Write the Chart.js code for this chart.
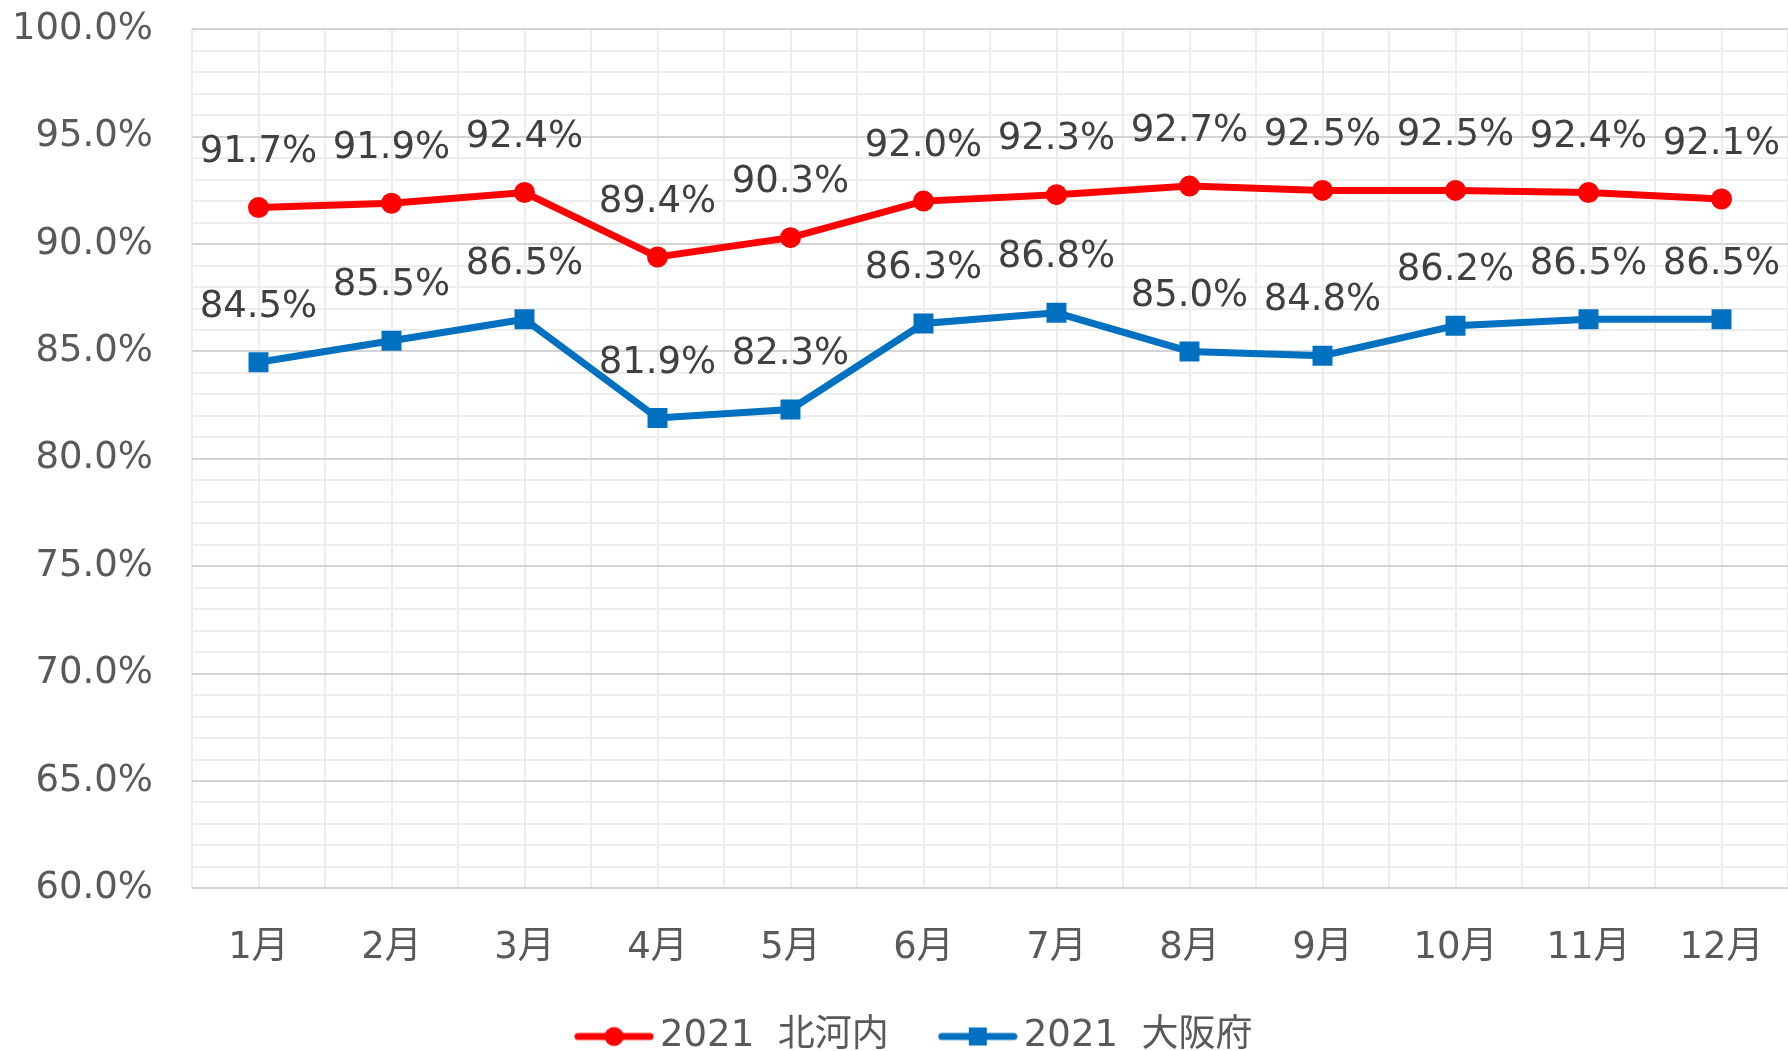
<!DOCTYPE html>
<html lang="ja">
<head>
<meta charset="utf-8">
<title>2021 北河内 / 大阪府</title>
<script src="https://cdn.jsdelivr.net/npm/chart.js@4/dist/chart.umd.min.js"></script>
<style>
  html, body { margin: 0; padding: 0; background: #fff; overflow: hidden; }
  #wrap { width: 1788px; height: 1065px; }
</style>
</head>
<body>
<div id="wrap"><canvas id="rateChart" width="1788" height="1065"></canvas></div>
<script>
// chart data
const months = ['1月', '2月', '3月', '4月', '5月', '6月', '7月', '8月', '9月', '10月', '11月', '12月'];
const kitakawachi = [91.7, 91.9, 92.4, 89.4, 90.3, 92.0, 92.3, 92.7, 92.5, 92.5, 92.4, 92.1];
const osakafu = [84.5, 85.5, 86.5, 81.9, 82.3, 86.3, 86.8, 85.0, 84.8, 86.2, 86.5, 86.5];
const seriesNames = ['2021  北河内', '2021  大阪府'];
const yMin = 60;
const yMax = 100;

const RED = '#FF0000';
const BLUE = '#0070C0';
// DejaVu for the latin part (close to Meiryo's digits), Noto CJK for kanji
const FONT = "'DejaVu Sans', 'Noto Sans CJK JP', sans-serif";

// legend icon: short line with the marker in the middle.
// the canvas is wider than the drawing so the line sits next to the text
function makeLegendIcon(color, shape) {
    const c = document.createElement('canvas');
    c.width = 131;
    c.height = 24;
    const g = c.getContext('2d');
    const x0 = 51;
    g.strokeStyle = color;
    g.lineWidth = 7;
    g.lineCap = 'round';
    g.beginPath();
    g.moveTo(x0 + 4, 12);
    g.lineTo(x0 + 76, 12);
    g.stroke();
    g.fillStyle = color;
    if (shape === 'circle') {
        g.beginPath();
        g.arc(x0 + 40, 12, 9.5, 0, Math.PI * 2);
        g.fill();
    } else {
        g.fillRect(x0 + 31, 3, 18, 18);
    }
    return c;
}
const legendIcons = [makeLegendIcon(RED, 'circle'), makeLegendIcon(BLUE, 'rect')];

// value labels above each point
const valueLabels = {
    id: 'valueLabels',
    afterDatasetsDraw(chart) {
        const ctx = chart.ctx;
        ctx.save();
        ctx.font = '37px ' + FONT;
        ctx.fillStyle = '#404040';
        ctx.textAlign = 'center';
        ctx.textBaseline = 'middle';
        chart.data.datasets.forEach((ds, i) => {
            const meta = chart.getDatasetMeta(i);
            meta.data.forEach((pt, j) => {
                ctx.fillText(ds.data[j].toFixed(1) + '%', pt.x, pt.y - 55);
            });
        });
        ctx.restore();
    }
};

const ctx = document.getElementById('rateChart').getContext('2d');
new Chart(ctx, {
    type: 'line',
    data: {
        labels: months,
        datasets: [{
            label: seriesNames[0],
            data: kitakawachi,
            borderColor: RED,
            backgroundColor: RED,
            borderWidth: 7,
            pointStyle: 'circle',
            pointRadius: 10.5,
            pointBorderWidth: 0,
            tension: 0
        }, {
            label: seriesNames[1],
            data: osakafu,
            borderColor: BLUE,
            backgroundColor: BLUE,
            borderWidth: 7,
            pointStyle: 'rect',
            pointRadius: 14.1,
            pointBorderWidth: 0,
            tension: 0
        }]
    },
    options: {
        responsive: false,
        animation: false,
        layout: { padding: 0, autoPadding: false },
        plugins: {
            tooltip: { enabled: false },
            legend: {
                position: 'bottom',
                labels: {
                    usePointStyle: true,
                    pointStyleWidth: 106,
                    padding: 10.6,
                    color: '#595959',
                    font: { family: FONT, size: 37 },
                    generateLabels(chart) {
                        const items = Chart.defaults.plugins.legend.labels.generateLabels(chart);
                        items.forEach((it, i) => { it.pointStyle = legendIcons[i]; });
                        return items;
                    }
                }
            }
        },
        scales: {
            x: {
                type: 'category',
                offset: true,
                border: { display: false },
                grid: { offset: true, color: '#EDEDED', lineWidth: 2, drawTicks: false },
                ticks: {
                    color: '#595959',
                    padding: 38,
                    font: { family: FONT, size: 37 }
                },
                afterFit(scale) {
                    scale.height = 119;
                    scale.paddingLeft = 0;
                    scale.paddingRight = 0;
                }
            },
            x2: {
                type: 'category',
                position: 'bottom',
                offset: true,
                border: { display: false },
                grid: { offset: false, color: '#EDEDED', lineWidth: 2, drawTicks: false },
                ticks: { display: false },
                afterFit(scale) {
                    scale.height = 0;
                    scale.paddingLeft = 0;
                    scale.paddingRight = 0;
                }
            },
            y: {
                min: yMin,
                max: yMax,
                border: { display: false },
                grid: {
                    drawTicks: false,
                    color: (c) => (c.tick.value % 5 === 0 ? '#D4D4D4' : '#EDEDED'),
                    lineWidth: 2
                },
                ticks: {
                    stepSize: 1,
                    autoSkip: false,
                    padding: 39,
                    color: '#595959',
                    font: { family: FONT, size: 37 },
                    callback: (v) => (v % 5 === 0 ? v.toFixed(1) + '%' : '')
                },
                afterFit(scale) {
                    scale.width = 192;
                    scale.paddingTop = 29.3;
                    scale.paddingBottom = 0;
                }
            }
        }
    },
    plugins: [valueLabels]
});
</script>
</body>
</html>
